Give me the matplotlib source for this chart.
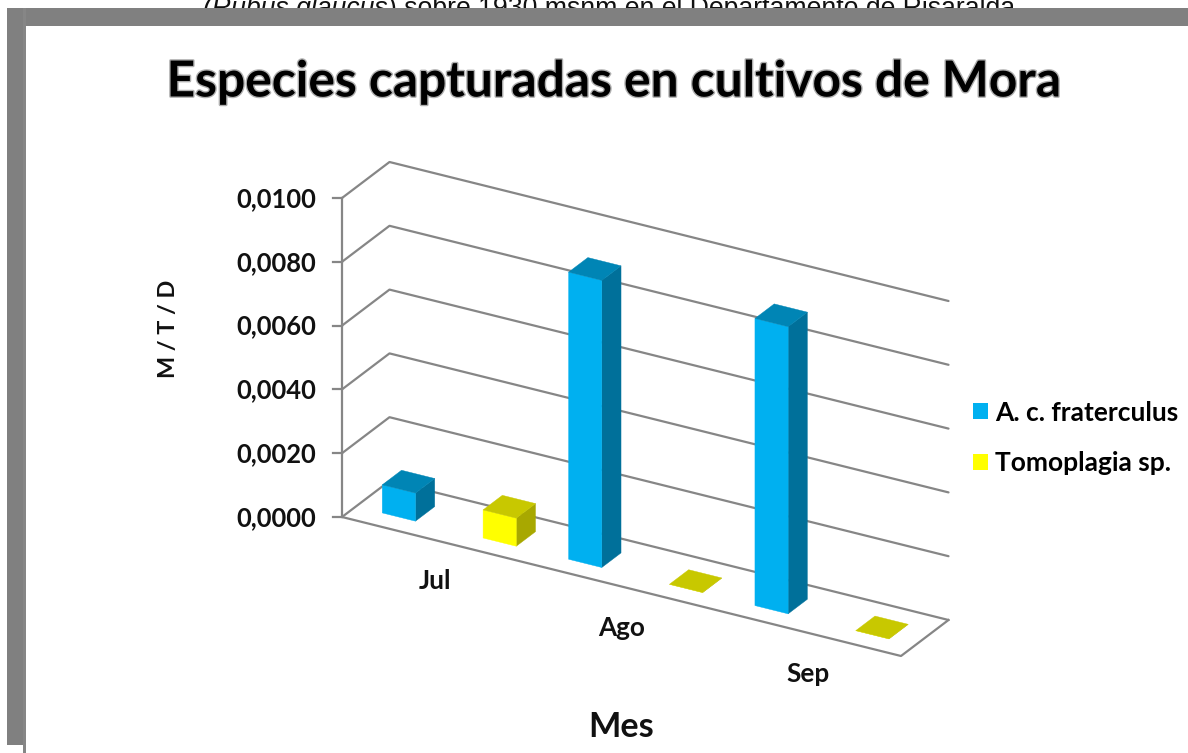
import matplotlib
matplotlib.use("Agg")
import matplotlib.pyplot as plt
from matplotlib.patches import Polygon, Rectangle, Patch
import matplotlib.patheffects as pe

# --- data ---
categories = ["Jul", "Ago", "Sep"]
fraterculus = [0.00088, 0.0090, 0.0090]
tomoplagia = [0.00088, 0.0, 0.0]
y_ticks = [0.0, 0.002, 0.004, 0.006, 0.008, 0.010]
tick_labels = ["0,0000", "0,0020", "0,0040", "0,0060", "0,0080", "0,0100"]
series_names = ["A. c. fraterculus", "Tomoplagia sp."]
title = "Especies capturadas en cultivos de Mora"
y_title = "M / T / D"
x_title = "Mes"
page_italic = "(Rubus glaucus"
page_normal = ") sobre 1930 msnm en el Departamento de Risaralda"

# --- styles ---
FONT = "Lato"
GRID = "#868686"
BLUE = ("#00B0F0", "#0085B5", "#00709A")
YELLOW = ("#FFFF00", "#C8C800", "#A8A800")
BAR_OFFSETS = (0.141, 0.682)
BAR_W = 0.178
D0, D1 = 0.295, 0.70

W, H = 1188, 753
fig = plt.figure(figsize=(W / 100, H / 100), dpi=100)
ax = fig.add_axes([0, 0, 1, 1])
ax.set_xlim(0, W)
ax.set_ylim(H, 0)
ax.axis("off")


def proj(x, v, d):
    """Oblique projection: x in categories, v in data units, d in 0..1 depth."""
    n = len(categories)
    return (342 + 559 / n * x + 47.5 * d,
            517 + 139 / n * x - 36 * d - 319 * v / y_ticks[-1])


# page text behind the grey frame
t1 = ax.text(203, 16, page_italic, family="Liberation Sans", style="italic",
             fontsize=19.15, color="#111111", va="baseline", zorder=1)
ax.annotate(page_normal, xy=(1, 0), xycoords=t1, va="bottom", ha="left",
            family="Liberation Sans", fontsize=19.15, color="#111111", zorder=1,
            annotation_clip=False)

# grey frame
ax.add_patch(Rectangle((7, 8), W - 7, 18, fc="#808080", ec="none", zorder=2))
ax.add_patch(Rectangle((7, 8), 16, 737, fc="#808080", ec="none", zorder=2))
ax.add_patch(Rectangle((23, 8), 3, H - 8, fc="#868686", ec="none", zorder=2))

# walls and grid
n = len(categories)
for v in y_ticks:
    xs, ys = zip(proj(0, v, 0), proj(0, v, 1), proj(n, v, 1))
    ax.plot(xs, ys, color=GRID, lw=1.6, zorder=3, solid_capstyle="round")
    a = proj(0, v, 0)
    ax.plot([a[0] - 9, a[0]], [a[1], a[1]], color=GRID, lw=1.6, zorder=3)
a, b = proj(0, 0, 0), proj(0, y_ticks[-1], 0)
ax.plot([a[0], b[0]], [a[1], b[1]], color=GRID, lw=1.6, zorder=3)
pts = [proj(0, 0, 0), proj(n, 0, 0), proj(n, 0, 1)]
ax.plot(*zip(*pts), color=GRID, lw=1.6, zorder=3, solid_joinstyle="round")

# bars
z = 4


def cube(x, v, colors):
    global z
    x1 = x + BAR_W
    front = [proj(x, 0, D0), proj(x1, 0, D0), proj(x1, v, D0), proj(x, v, D0)]
    side = [proj(x1, 0, D0), proj(x1, 0, D1), proj(x1, v, D1), proj(x1, v, D0)]
    top = [proj(x, v, D0), proj(x1, v, D0), proj(x1, v, D1), proj(x, v, D1)]
    for pts_, c in ((side, colors[2]), (front, colors[0]), (top, colors[1])):
        ax.add_patch(Polygon(pts_, closed=True, fc=c, ec=c, lw=0.3, zorder=z))
    z += 1


for i in range(n):
    cube(i + BAR_OFFSETS[0], fraterculus[i], BLUE)
    cube(i + BAR_OFFSETS[1], tomoplagia[i], YELLOW)

# tick labels
for v, lab in zip(y_ticks, tick_labels):
    p = proj(0, v, 0)
    ax.text(p[0] - 26, p[1] + 1, lab, family=FONT, weight="bold", fontsize=18.4,
            ha="right", va="center", color="#111111", zorder=20)

# category labels
for i, c in enumerate(categories):
    p = proj(i + 0.5, 0, 0)
    ax.text(p[0], p[1] + 41, c, family=FONT, weight="bold", fontsize=18.8,
            ha="center", va="center", color="#111111", zorder=20)

# titles
ax.text(614, 82, title, family=FONT, weight="bold", fontsize=35.8, ha="center",
        va="center", color="black", zorder=20,
        path_effects=[pe.withStroke(linewidth=2, foreground="#b0b0b0")])
ax.text(168, 329, y_title, family=FONT, weight="bold", fontsize=16.8, rotation=90,
        ha="center", va="center", color="#111111", zorder=20)
ax.text(621, 727, x_title, family=FONT, weight="bold", fontsize=24.7, ha="center",
        va="center", color="#111111", zorder=20)

# legend
handles = [Patch(fc=BLUE[0], ec="none"), Patch(fc=YELLOW[0], ec="none")]
ax.legend(handles, series_names, loc="center left",
          bbox_to_anchor=(973, 438), bbox_transform=ax.transData,
          frameon=False, handlelength=0.57, handleheight=0.57, handletextpad=0.27,
          labelspacing=1.02, borderpad=0, borderaxespad=0,
          prop=dict(family=FONT, weight="bold", size=19))

fig.savefig("out.png", dpi=100)
